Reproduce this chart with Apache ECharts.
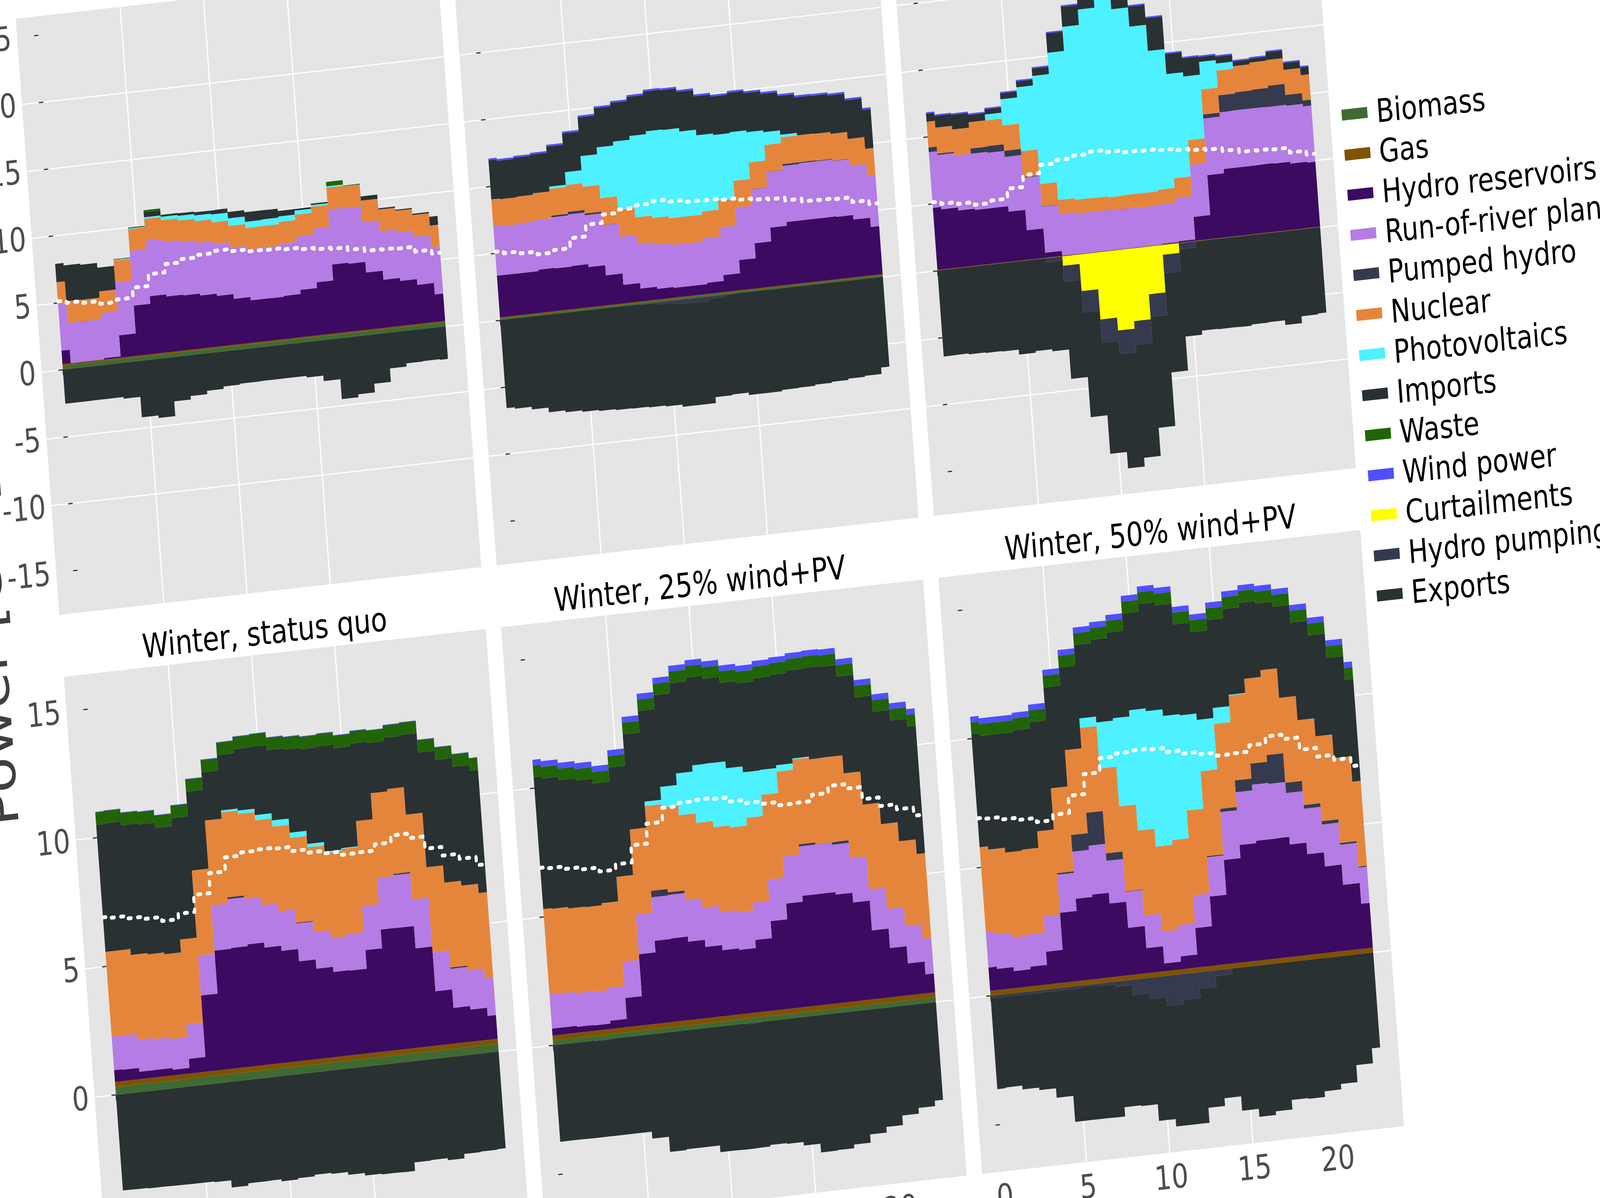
<!DOCTYPE html>
<html><head><meta charset="utf-8">
<script src="https://cdn.jsdelivr.net/npm/echarts@6/dist/echarts.min.js"></script>
<style>
html,body{margin:0;padding:0;width:100%;height:100%;overflow:hidden;background:#fff}
#c{position:absolute;left:0;top:0;width:5700px;height:3700px;transform-origin:0 0}
</style></head><body><div id="c"></div>
<script>
const hours=[0,1,2,3,4,5,6,7,8,9,10,11,12,13,14,15,16,17,18,19,20,21,22,23];
const hourTicks=[0,5,10,15,20];
const topTicks=[-15,-10,-5,0,5,10,15,20,25];
const bottomTicks=[-5,0,5,10,15];
const legendNames=['Biomass','Gas','Hydro reservoirs','Run-of-river plants','Pumped hydro','Nuclear','Photovoltaics','Imports','Waste','Wind power','Curtailments','Hydro pumping','Exports'];
const colors=['#3F6A31','#7F5200','#3C0A60','#B47CE4','#363A4E','#E5853B','#4DF1FF','#293133','#216408','#4F4FFF','#FFFF00','#363A4E','#293133'];
const panelTitles=['','','','Winter, status quo','Winter, 25% wind+PV','Winter, 50% wind+PV'];
const demandTop=[5.1,4.92,4.77,4.56,4.74,5.48,6.35,6.96,7.19,7.37,7.53,7.36,7.2,7.16,7.05,6.91,6.78,6.69,6.47,6.25,6.22,6.16,5.79,5.5];
const demandBottom=[6.9,6.85,6.75,6.66,6.5,6.71,7.37,8.14,8.68,8.8,8.84,8.8,8.63,8.5,8.4,8.27,8.29,8.53,8.8,8.62,8.14,7.8,7.6,7.28];

// Panel 1
const p1Biomass=[.3,.3,.3,.3,.3,.3,.3,.3,.3,.3,.3,.3,.3,.3,.3,.3,.3,.3,.3,.3,.3,.3,.3,.3];
const p1Gas=[.1,.1,.1,.1,.1,.1,.1,.1,.1,.1,.1,.1,.1,.1,.1,.1,.1,.1,.1,.1,.1,.1,.1,.1];
const p1Hydro=[1.02,.02,.02,.1,1.67,3.75,4.31,4.15,4.09,3.94,3.77,3.41,3.16,3.15,3.21,3.52,3.94,5.13,5.05,4.25,3.57,3.34,2.91,2.05];
const p1Ror=[3.49,3,2.98,3.37,3.97,4.08,4.15,4.08,3.97,3.93,3.87,3.83,3.78,3.8,3.9,3.99,4.02,4.12,4.14,3.75,3.62,3.62,3.59,3.52];
const p1Pumped=[0,0,0,0,0,0,0,0,0,0,0,0,0,0,0,0,0,0,0,0,0,0,0,0];
const p1Nuclear=[1.62,1.62,1.62,1.62,1.62,1.62,1.62,1.62,1.62,1.62,1.62,1.62,1.62,1.62,1.62,1.62,1.62,1.62,1.62,1.62,1.62,1.62,1.62,1.62];
const p1Pv=[0,0,0,0,.05,.06,.13,.25,.35,.43,.59,.56,.46,.49,.41,.31,.13,.1,.02,0,0,0,0,0];
const p1Imports=[1.37,2.67,2.6,1.77,.04,.06,.37,.12,.17,.22,.31,.47,.71,.66,.41,.12,.1,0,.03,.31,.09,.07,.09,.66];
const p1Waste=[0,0,0,0,.01,.01,.15,.03,.02,.02,.01,.01,.01,.01,.01,.01,.01,.33,.03,.01,.01,.01,.01,0];
const p1Wind=[0,0,0,0,0,0,0,0,0,0,0,0,0,0,0,0,0,0,0,0,0,0,0,0];
const p1Curtail=[0,0,0,0,0,0,0,0,0,0,0,0,0,0,0,0,0,0,0,0,0,0,0,0];
const p1Pumping=[0,0,0,0,0,0,0,0,0,0,0,0,0,0,0,0,0,0,0,0,0,0,0,0];
const p1Exports=[-2.55,-2.55,-2.54,-2.54,-2.67,-4.2,-4.39,-3.29,-3.03,-2.78,-2.6,-2.53,-2.51,-2.51,-2.51,-2.63,-3.04,-4.53,-4.31,-3.66,-2.66,-2.42,-2.39,-2.44];

// Panel 2
const p2Biomass=[.12,.12,.12,.12,.12,.12,.12,.12,.12,.12,.12,.12,.12,.12,.12,.12,.12,.12,.12,.12,.12,.12,.12,.12];
const p2Gas=[.08,.08,.08,.08,.08,.08,.08,.08,.08,.08,.08,.08,.08,.08,.08,.08,.08,.08,.08,.08,.08,.08,.08,.08];
const p2Hydro=[3.12,3.11,3.11,3.22,3.17,3.21,2.99,2.23,1.38,.96,.8,.73,.73,.83,1.26,2.24,3.36,4.39,4.67,4.67,4.67,4.63,4.29,3.59];
const p2Ror=[3.7,3.65,3.7,3.7,3.82,3.85,3.87,3.74,3.6,3.32,3.29,3.2,3.19,3.32,3.57,3.92,4.02,4.15,4.19,4.25,4.25,4.17,4.02,3.84];
const p2Pumped=[0,0,0,0,.12,.2,.13,.02,0,0,0,0,0,0,0,0,.02,.02,.13,.08,.05,.03,0,0];
const p2Nuclear=[2,2,2,2,2,2,2,2,2,2,2,2,2,2,2,2,2,2,2,2,2,2,2,2];
const p2Pv=[0,0,0,0,.17,.96,2.29,3.8,5.1,6.08,6.48,6.6,6.35,5.7,4.9,3.64,2.26,.96,.2,0,0,0,0,0];
const p2Imports=[2.92,2.87,2.91,2.89,2.99,2.89,2.89,2.92,2.89,2.92,2.97,2.96,2.96,2.91,2.87,2.94,2.92,2.86,2.89,2.84,2.84,2.87,2.89,2.91];
const p2Waste=[0,0,0,0,0,0,0,0,0,0,0,0,0,0,0,0,0,0,0,0,0,0,0,0];
const p2Wind=[.13,.13,.13,.13,.13,.13,.13,.13,.13,.13,.13,.13,.13,.13,.13,.13,.13,.13,.13,.13,.13,.13,.13,.13];
const p2Curtail=[0,0,0,0,0,0,0,0,0,0,0,0,0,0,0,0,0,0,0,0,0,0,0,0];
const p2Pumping=[0,0,0,0,0,0,0,0,0,-.05,-.18,-.3,-.35,-.18,-.02,0,0,0,0,0,0,0,0,0];
const p2Exports=[-6.58,-6.69,-6.89,-7.24,-7.38,-7.49,-7.57,-7.64,-7.67,-7.67,-7.61,-7.66,-7.61,-7.34,-7.44,-7.64,-7.64,-7.54,-7.51,-7.43,-7.36,-7.26,-7.19,-6.71];

// Panel 3
const p3Biomass=[0,0,0,0,0,0,0,0,0,0,0,0,0,0,0,0,0,0,0,0,0,0,0,0];
const p3Gas=[.05,.05,.05,.05,.05,.05,.05,.05,.05,.05,.05,.05,.05,.05,.05,.05,.05,.05,.05,.05,.05,.05,.05,.05];
const p3Hydro=[4.64,4.46,4.23,4.13,4.13,3.72,2.19,.37,.02,0,0,0,0,0,.05,.1,1.78,4.76,5.08,5.08,5.1,5.06,4.92,4.85];
const p3Ror=[4.16,4.06,4.11,4.2,4.13,4.09,3.93,3.44,3.09,3,3,2.98,2.96,2.93,2.93,3.23,3.88,4.23,4.23,4.25,4.23,4.25,4.32,4.2];
const p3Pumped=[.35,.1,0,.39,.5,.46,.05,.03,0,0,0,0,0,0,0,0,0,.3,1.27,1.34,1.39,1.57,.81,.44];
const p3Nuclear=[1.92,1.94,1.94,1.96,1.92,1.89,1.92,1.66,1.06,1.04,1.02,.97,1.02,1.04,1.11,1.48,1.85,1.87,1.85,1.95,2.03,1.92,1.87,1.89];
const p3Pv=[0,0,0,0,.44,1.96,4.78,8.08,11,12.93,14.1,15,13.88,12.45,10.37,7.78,4.76,2.06,.53,0,0,0,0,0];
const p3Imports=[.6,.88,1.1,.55,.39,.44,.44,.55,1.45,1.5,1.5,1.4,1.5,1.5,2.45,1.5,1.36,.37,.51,.35,.3,.58,.51,.58];
const p3Waste=[0,0,0,0,0,0,0,0,0,0,0,0,0,0,0,0,0,0,0,0,0,0,0,0];
const p3Wind=[.1,.1,.1,.1,.1,.1,.1,.1,.1,.1,.1,.1,.1,.1,.1,.1,.1,.1,.1,.1,.1,.1,.1,.1];
const p3Curtail=[0,0,0,0,0,0,0,0,-.7,-2.73,-4.99,-5.96,-5.4,-3.53,-.72,0,0,0,0,0,0,0,0,0];
const p3Pumping=[0,0,0,0,0,0,0,-.32,-1.2,-1.59,-1.73,-1.75,-1.76,-1.69,-1.38,-.46,0,0,0,0,0,0,0,0];
const p3Exports=[-6.42,-6.4,-6.47,-6.51,-6.54,-6.91,-6.79,-6.63,-7.25,-7.83,-8.31,-8.55,-8.45,-8.29,-7.41,-6.51,-6.67,-6.7,-6.72,-6.63,-6.6,-6.95,-6.44,-6.37];

// Panel 4
const p4Biomass=[.3,.3,.3,.3,.3,.3,.3,.3,.3,.3,.3,.3,.3,.3,.3,.3,.3,.3,.3,.3,.3,.3,.3,.3];
const p4Gas=[.2,.2,.2,.2,.2,.2,.2,.2,.2,.2,.2,.2,.2,.2,.2,.2,.2,.2,.2,.2,.2,.2,.2,.2];
const p4Hydro=[.46,.44,.29,.29,.22,.57,2.96,4.63,4.66,4.73,4.53,4.33,3.85,3.49,3.29,3.27,3.99,4.72,4.71,3.84,2.1,1.38,1.24,.92];
const p4Ror=[1.3,1.32,1.24,1.19,1.19,1.34,1.56,1.76,1.9,1.77,1.65,1.53,1.47,1.42,1.32,1.43,1.72,2,2.05,1.9,1.52,1.52,1.52,1.48];
const p4Pumped=[0,0,0,0,0,0,0,0,.07,0,0,0,.03,0,0,0,0,0,.05,0,0,.05,0,0];
const p4Nuclear=[3.3,3.3,3.3,3.3,3.3,3.3,3.3,3.3,3.3,3.3,3.3,3.3,3.3,3.3,3.3,3.3,3.3,3.3,3.3,3.3,3.3,3.3,3.3,3.3];
const p4Pv=[0,0,0,0,0,0,0,0,.08,.13,.2,.24,.2,.13,.06,.03,0,0,0,0,0,0,0,0];
const p4Imports=[4.94,4.96,5.04,5.05,4.91,4.72,3.06,1.87,2.15,2.38,2.66,2.73,3.23,3.68,4.09,3.89,3.01,1.95,1.99,3.09,4.46,4.77,4.62,4.75];
const p4Waste=[.48,.48,.48,.48,.48,.48,.48,.48,.48,.48,.48,.48,.48,.48,.48,.48,.48,.48,.48,.48,.48,.48,.48,.48];
const p4Wind=[.02,.02,.02,.02,.02,.02,.02,.02,.02,.02,.02,.02,.02,.02,.02,.02,.02,.02,.02,.02,.02,.02,.02,.02];
const p4Curtail=[0,0,0,0,0,0,0,0,0,0,0,0,0,0,0,0,0,0,0,0,0,0,0,0];
const p4Pumping=[0,0,0,0,0,0,0,0,0,0,0,0,0,0,0,0,0,0,0,0,0,0,0,0];
const p4Exports=[-3.72,-3.73,-3.75,-3.76,-3.77,-3.77,-3.8,-4.08,-3.99,-3.98,-4.06,-4.01,-3.95,-3.99,-4.1,-4.2,-4.23,-4.24,-3.91,-3.89,-3.97,-3.8,-3.78,-3.76];

// Panel 5
const p5Biomass=[.18,.18,.18,.18,.18,.18,.18,.18,.18,.18,.18,.18,.18,.18,.18,.18,.18,.18,.18,.18,.18,.18,.18,.18];
const p5Gas=[.2,.2,.2,.2,.2,.2,.2,.2,.2,.2,.2,.2,.2,.2,.2,.2,.2,.2,.2,.2,.2,.2,.2,.2];
const p5Hydro=[.27,.27,.23,.21,.32,1.13,2.76,3.21,3.23,3.03,2.75,2.55,2.49,2.8,3.46,4.07,4.3,4.3,4.2,3.82,2.66,1.9,1.23,.73];
const p5Ror=[1.35,1.32,1.3,1.3,1.27,1.41,1.55,1.69,1.69,1.61,1.52,1.48,1.46,1.45,1.61,1.83,1.92,1.92,1.94,1.72,1.59,1.52,1.45,1.38];
const p5Pumped=[0,0,0,0,0,0,0,.25,.1,0,0,0,0,0,0,0,.08,.01,.1,0,0,0,0,0];
const p5Nuclear=[3.3,3.3,3.3,3.3,3.3,3.3,3.3,3.3,3.3,3.3,3.3,3.3,3.3,3.3,3.3,3.3,3.3,3.3,3.3,3.3,3.3,3.3,3.3,3.3];
const p5Pv=[0,0,0,0,0,0,0,.17,.8,1.63,2.24,2.49,2.3,1.77,.97,.25,.04,0,0,0,0,0,0,0];
const p5Imports=[5.13,5.07,4.99,4.92,4.65,4.25,3.7,3.52,3.56,3.51,3.41,3.28,3.32,3.46,3.56,3.51,3.41,3.55,3.51,3.76,4.17,4.37,4.69,4.96];
const p5Waste=[.45,.45,.45,.45,.45,.45,.45,.45,.45,.45,.45,.45,.45,.45,.45,.45,.45,.45,.45,.45,.45,.45,.45,.45];
const p5Wind=[.22,.22,.22,.22,.22,.22,.22,.22,.22,.22,.22,.22,.22,.22,.22,.22,.22,.22,.22,.22,.22,.22,.22,.22];
const p5Curtail=[0,0,0,0,0,0,0,0,0,0,0,0,0,0,0,0,0,0,0,0,0,0,0,0];
const p5Pumping=[0,0,0,-.03,0,0,0,0,0,0,0,0,-.03,0,0,0,0,0,0,0,0,0,0,0];
const p5Exports=[-3.75,-3.75,-3.76,-3.73,-3.76,-3.76,-4.03,-4.62,-4.59,-4.59,-4.85,-4.86,-4.82,-4.79,-4.82,-4.96,-5.3,-5.28,-5.14,-4.82,-4.6,-4.23,-4.01,-3.8];

// Panel 6
const p6Biomass=[0,0,0,0,0,0,0,0,0,0,0,0,0,0,0,0,0,0,0,0,0,0,0,0];
const p6Gas=[.19,.19,.19,.19,.19,.19,.19,.19,.19,.19,.19,.19,.19,.19,.19,.19,.19,.19,.19,.19,.19,.19,.19,.19];
const p6Hydro=[.91,.82,.66,.76,1.27,2.71,3.18,3.27,2.85,1.83,.97,.3,.5,1.53,2.68,4.03,4.54,4.63,4.64,4.34,3.89,3.34,2.55,1.74];
const p6Ror=[1.38,1.34,1.31,1.25,1.38,1.48,1.83,1.9,1.66,1.4,1.27,1.24,1.22,1.27,1.53,1.86,2.05,2.18,2.13,2,1.77,1.63,1.56,1.41];
const p6Pumped=[0,0,0,0,0,.06,.65,1.28,.29,.02,0,0,0,0,.04,.13,.46,.82,1.12,.4,.14,.13,.07,.04];
const p6Nuclear=[3.3,3.3,3.3,3.3,3.3,3.3,3.3,3.3,3.3,3.3,3.3,3.3,3.3,3.3,3.3,3.3,3.3,3.3,3.3,3.3,3.3,3.3,3.3,3.3];
const p6Pv=[0,0,0,0,0,0,0,.37,1.79,3.43,4.68,5.27,4.83,3.7,2,.62,.03,0,0,0,0,0,0,0];
const p6Imports=[4.39,4.42,4.61,4.64,4.24,3.92,3.21,2.85,3.21,3.33,3.76,4.16,4.29,3.53,3.41,3.41,3.33,2.95,2.59,3.54,3.79,3.92,3.89,3.96];
const p6Waste=[.46,.46,.46,.46,.46,.46,.46,.46,.46,.46,.46,.46,.46,.46,.46,.46,.46,.46,.46,.46,.46,.46,.46,.46];
const p6Wind=[.22,.22,.22,.22,.22,.22,.22,.22,.22,.22,.22,.22,.22,.22,.22,.22,.22,.22,.22,.22,.22,.22,.22,.22];
const p6Curtail=[0,0,0,0,0,0,0,0,0,0,0,0,0,0,0,0,0,0,0,0,0,0,0,0];
const p6Pumping=[-.1,-.1,-.1,-.1,-.1,-.1,-.05,-.1,-.19,-.59,-.81,-1.17,-.99,-.63,-.22,0,0,0,0,0,0,0,0,0];
const p6Exports=[-3.53,-3.5,-3.65,-3.75,-4.12,-5.13,-5.18,-5.14,-4.69,-4.32,-4.75,-4.68,-4.86,-4.64,-4.75,-5.53,-5.84,-5.7,-5.33,-5.36,-5.14,-4.93,-4.27,-3.69];

const panels=[
 [p1Biomass,p1Gas,p1Hydro,p1Ror,p1Pumped,p1Nuclear,p1Pv,p1Imports,p1Waste,p1Wind,p1Curtail,p1Pumping,p1Exports],
 [p2Biomass,p2Gas,p2Hydro,p2Ror,p2Pumped,p2Nuclear,p2Pv,p2Imports,p2Waste,p2Wind,p2Curtail,p2Pumping,p2Exports],
 [p3Biomass,p3Gas,p3Hydro,p3Ror,p3Pumped,p3Nuclear,p3Pv,p3Imports,p3Waste,p3Wind,p3Curtail,p3Pumping,p3Exports],
 [p4Biomass,p4Gas,p4Hydro,p4Ror,p4Pumped,p4Nuclear,p4Pv,p4Imports,p4Waste,p4Wind,p4Curtail,p4Pumping,p4Exports],
 [p5Biomass,p5Gas,p5Hydro,p5Ror,p5Pumped,p5Nuclear,p5Pv,p5Imports,p5Waste,p5Wind,p5Curtail,p5Pumping,p5Exports],
 [p6Biomass,p6Gas,p6Hydro,p6Ror,p6Pumped,p6Nuclear,p6Pv,p6Imports,p6Waste,p6Wind,p6Curtail,p6Pumping,p6Exports]
];

// The design is 5094x3066; fit it to the window the page actually gets.
const sx=window.innerWidth/5094, sy=window.innerHeight/3066;
document.getElementById('c').style.transform='scale('+sx+','+sy+') translate(-257.8px,-24.4px) rotate(-5.2deg)';

const FONT='"DejaVu Sans"';
const PW=1349,PH=1532,PITCH=1398,ROW=1691,L0=300,T0=100;
const titleShift=[0,0,0,-33,-40,3];
const grid=[],xAxis=[],yAxis=[],series=[],title=[];
panels.forEach((arrs,p)=>{
  const col=p%3,row=p<3?0:1;
  const left=L0+col*PITCH,top=T0+row*ROW;
  grid.push({left,top,width:PW,height:PH,show:true,backgroundColor:'#E5E5E5',borderWidth:0,containLabel:false});
  xAxis.push({type:'value',gridIndex:p,min:-1.28,max:24.08,splitNumber:5,
    axisLine:{show:false},
    axisTick:{show:true,length:14,lineStyle:{color:'#333',width:3},customValues:hourTicks},
    axisLabel:{show:row===1,customValues:hourTicks,fontSize:85,fontFamily:FONT,color:'#4D4D4D',margin:20},
    splitLine:{show:true,showMinLine:false,showMaxLine:false,lineStyle:{color:'#fff',width:4}}});
  yAxis.push({type:'value',gridIndex:p,
    min:row?-6.83:-18.15,max:row?16.35:26.4,splitNumber:row?5:9,
    axisLine:{show:false},
    axisTick:{show:true,length:14,lineStyle:{color:'#333',width:3},customValues:row?bottomTicks:topTicks},
    axisLabel:{show:col===0,customValues:row?bottomTicks:topTicks,fontSize:85,fontFamily:FONT,color:'#4D4D4D',margin:18},
    splitLine:{show:true,showMinLine:false,showMaxLine:false,lineStyle:{color:'#fff',width:3}}});
  arrs.forEach((vals,k)=>{
    const neg=k>=10;
    series.push({type:'line',name:legendNames[k],xAxisIndex:p,yAxisIndex:p,stack:'s'+p,step:'middle',
      showSymbol:false,symbol:'none',silent:true,
      encode:{x:1,y:0},
      color:colors[k],itemStyle:{color:colors[k]},
      lineStyle:{width:0},areaStyle:{color:colors[k],opacity:1},
      data:vals.map((v,i)=>[neg&&v===0?-1e-5:v,hours[i]])});
  });
  series.push({type:'line',name:'Demand',xAxisIndex:p,yAxisIndex:p,step:'middle',showSymbol:false,symbol:'none',silent:true,z:10,
    lineStyle:{color:'#fff',width:10,type:[9,21],cap:'round',join:'round'},
    data:(row?demandBottom:demandTop).map((v,i)=>[hours[i],v])});
  if(panelTitles[p]) title.push({text:panelTitles[p],left:left+PW/2+titleShift[p],top:top-102,textAlign:'center',
    textStyle:{fontSize:85,fontWeight:'normal',fontFamily:FONT,color:'#000'}});
});

const chart=echarts.init(document.getElementById('c'),null,{renderer:'svg',width:5700,height:3700});
chart.setOption({
  animation:false,backgroundColor:'#fff',grid,xAxis,yAxis,series,title,
  legend:{data:legendNames,orient:'vertical',left:4482,top:687,padding:0,itemGap:20,itemWidth:82,itemHeight:28,icon:'rect',selectedMode:false,
    textStyle:{fontSize:83,fontFamily:FONT,color:'#000',padding:[0,0,0,23]}},
  graphic:[{type:'text',x:146,y:1711,rotation:Math.PI/2,silent:true,
    style:{text:'Power [GW]',fontSize:151,fontFamily:FONT,fill:'#3F3F3F',align:'center',verticalAlign:'bottom'}}]
});
</script></body></html>
